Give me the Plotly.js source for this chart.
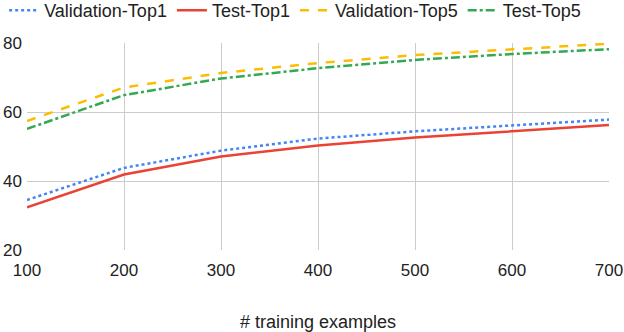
<!DOCTYPE html>
<html>
<head>
<meta charset="utf-8">
<script src="https://cdn.plot.ly/plotly-3.0.1.min.js"></script>
<style>
  html, body { margin: 0; padding: 0; background: #fff; }
  #chart { width: 624px; height: 332px; }
</style>
</head>
<body>
<div id="chart"></div>
<script>
const trainingExamples = [100, 200, 300, 400, 500, 600, 700];

const validationTop1 = [34.5, 43.8, 48.8, 52.3, 54.4, 56.1, 57.8];
const testTop1       = [32.4, 41.9, 47.1, 50.3, 52.6, 54.4, 56.2];
const validationTop5 = [57.4, 67.1, 71.3, 74.2, 76.5, 78.2, 79.8];
const testTop5       = [55.1, 64.9, 69.7, 72.7, 75.1, 76.8, 78.2];

const yTicks = [20, 40, 60, 80];

function line(y, name, color, dash) {
    return {
        x: trainingExamples,
        y: y,
        type: 'scatter',
        mode: 'lines',
        name: name,
        line: { color: color, width: 2.5, dash: dash }
    };
}

let traces = [
    line(validationTop1, 'Validation-Top1', '#4285F4', 'dot'),
    line(testTop1,       'Test-Top1',       '#EA4335', 'solid'),
    line(validationTop5, 'Validation-Top5', '#FBBC04', 'dash'),
    line(testTop5,       'Test-Top5',       '#34A853', 'dashdot')
];

let layout = {
    width: 624,
    height: 332,
    paper_bgcolor: '#fff',
    plot_bgcolor: '#fff',
    font: { family: 'Liberation Sans, Arial, sans-serif', size: 17, color: '#222' },

    showlegend: true,
    legend: {
        orientation: 'h',
        xref: 'container',
        x: 0.473,
        xanchor: 'center',
        yref: 'paper',
        y: 1.246,
        yanchor: 'top',
        font: { size: 18, color: '#222' },
        itemwidth: 30,
        tracegroupgap: 0
    },

    xaxis: {
        range: [100, 700],
        tickvals: trainingExamples,
        showgrid: true,
        gridcolor: '#cccccc',
        gridwidth: 1,
        zeroline: false,
        showline: false,
        ticks: '',
        ticklabelstandoff: 8,
        tickfont: { size: 17 },
        title: { text: '# training examples', font: { size: 18 }, standoff: 36 }
    },

    yaxis: {
        range: [20, 80],
        tickvals: yTicks,
        showgrid: true,
        gridcolor: '#cccccc',
        gridwidth: 1,
        zeroline: false,
        showline: false,
        ticks: '',
        ticklabelstandoff: 4,
        tickfont: { size: 17 }
    },

    margin: { l: 27, r: 15, t: 43, b: 82, autoexpand: false }
};

Plotly.newPlot('chart', traces, layout, { displayModeBar: false, staticPlot: true });
</script>
</body>
</html>
